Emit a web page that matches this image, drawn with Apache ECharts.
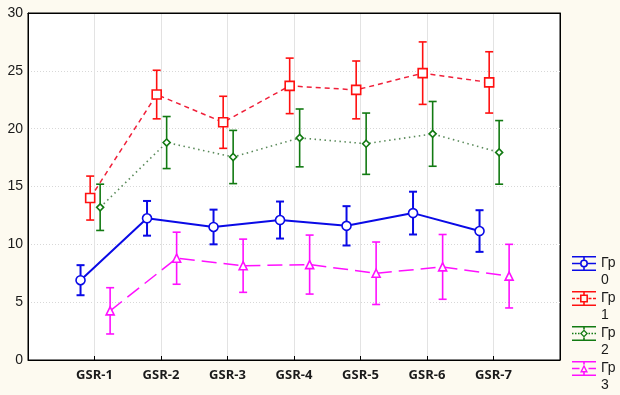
<!DOCTYPE html>
<html>
<head>
<meta charset="utf-8">
<script src="https://cdn.jsdelivr.net/npm/echarts@6/dist/echarts.min.js"></script>
<style>
  html, body { margin: 0; padding: 0; background: #fdfaf0; }
  #chart { width: 620px; height: 395px; }
</style>
</head>
<body>
<div id="chart"></div>
<script>
  const categories = ['GSR-1', 'GSR-2', 'GSR-3', 'GSR-4', 'GSR-5', 'GSR-6', 'GSR-7']
  const groupNames = ['Гр 0', 'Гр 1', 'Гр 2', 'Гр 3']

  const gr0Mean = [6.9, 12.25, 11.5, 12.1, 11.6, 12.7, 11.15]
  const gr0Err = [1.3, 1.5, 1.5, 1.6, 1.7, 1.85, 1.8]
  const gr1Mean = [14.0, 22.95, 20.55, 23.7, 23.35, 24.8, 24.0]
  const gr1Err = [1.9, 2.1, 2.25, 2.4, 2.5, 2.7, 2.65]
  const gr2Mean = [13.2, 18.8, 17.55, 19.2, 18.7, 19.55, 17.95]
  const gr2Err = [2.0, 2.25, 2.3, 2.5, 2.65, 2.8, 2.75]
  const gr3Mean = [4.25, 8.8, 8.15, 8.25, 7.5, 8.05, 7.25]
  const gr3Err = [2.0, 2.25, 2.3, 2.55, 2.7, 2.8, 2.75]

  const means = [gr0Mean, gr1Mean, gr2Mean, gr3Mean]
  const errs = [gr0Err, gr1Err, gr2Err, gr3Err]

  // look of each group
  const colors = ['#0a0ae6', '#ff1010', '#127a12', '#ff10ff']
  const lineColors = ['#0a0ae6', '#f0203a', '#5a8a5a', '#ff10ff']
  const lineTypes = ['solid', [5, 4], [1.5, 3.5], [15, 7]]
  const lineWidths = [2, 1.5, 1.6, 1.5]
  const symbols = ['circle', 'rect', 'diamond', 'triangle']
  const symbolSizes = [9, 9, 7, 8]
  const xShift = [-0.21, -0.065, 0.085, 0.235]

  // legend icon: two caps, stem, middle line, hollow marker
  function rect (x, y, w, h) {
    return 'M' + x + ',' + y + 'H' + (x + w) + 'V' + (y + h) + 'H' + x + 'Z'
  }
  function legendIcon (i) {
    let p = rect(0, 0, 24, 1.6) + rect(0, 13.4, 24, 1.6)
    p += rect(11.2, 0, 1.6, 3.5) + rect(11.2, 11.5, 1.6, 3.5)
    if (i === 0) {
      p += rect(0, 6.7, 8, 1.6) + rect(16, 6.7, 8, 1.6)
    } else if (i === 1) {
      p += rect(0, 6.7, 3, 1.6) + rect(4.5, 6.7, 3, 1.6) + rect(16.5, 6.7, 3, 1.6) + rect(21, 6.7, 3, 1.6)
    } else if (i === 2) {
      p += rect(0, 6.7, 1.5, 1.6) + rect(3, 6.7, 1.5, 1.6) + rect(6, 6.7, 1.5, 1.6) + rect(16.5, 6.7, 1.5, 1.6) + rect(19.5, 6.7, 1.5, 1.6) + rect(22.5, 6.7, 1.5, 1.6)
    } else {
      p += rect(0, 6.7, 7.5, 1.6) + rect(16.5, 6.7, 7.5, 1.6)
    }
    // hollow marker, outer one way, inner the other way
    if (i === 0) {
      p += 'M8,7.5A4,4 0 1,1 16,7.5A4,4 0 1,1 8,7.5Z'
      p += 'M9.6,7.5A2.4,2.4 0 1,0 14.4,7.5A2.4,2.4 0 1,0 9.6,7.5Z'
    } else if (i === 1) {
      p += 'M8,3.5H16V11.5H8Z' + 'M9.6,5.1V9.9H14.4V5.1Z'
    } else if (i === 2) {
      p += 'M12,3.5L16,7.5L12,11.5L8,7.5Z' + 'M12,5.3L9.8,7.5L12,9.7L14.2,7.5Z'
    } else {
      p += 'M12,3.5L16,11.5H8Z' + 'M12,6.6L10.3,10.1H13.7Z'
    }
    return 'path://' + p
  }

  const series = []
  means.forEach((m, i) => {
    const low = m.map((v, k) => v - errs[i][k])
    const high = m.map((v, k) => v + errs[i][k])
    series.push({
      name: groupNames[i] + ' err',
      type: 'custom',
      z: 2,
      silent: true,
      data: m.map((v, k) => [k + 1 + xShift[i], low[k], high[k]]),
      renderItem: function (params, api) {
        const a = api.coord([api.value(0), api.value(1)])
        const b = api.coord([api.value(0), api.value(2)])
        const hw = 4
        const style = { stroke: colors[i], lineWidth: i === 0 ? 2 : 1.6 }
        return {
          type: 'group',
          children: [
            { type: 'line', shape: { x1: a[0], y1: a[1], x2: b[0], y2: b[1] }, style: style },
            { type: 'line', shape: { x1: a[0] - hw, y1: a[1], x2: a[0] + hw, y2: a[1] }, style: style },
            { type: 'line', shape: { x1: b[0] - hw, y1: b[1], x2: b[0] + hw, y2: b[1] }, style: style }
          ]
        }
      }
    })
    series.push({
      name: groupNames[i],
      type: 'line',
      z: 3,
      data: m.map((v, k) => [k + 1 + xShift[i], v]),
      symbol: symbols[i],
      symbolSize: symbolSizes[i],
      showAllSymbol: true,
      lineStyle: { color: lineColors[i], width: lineWidths[i], type: lineTypes[i] },
      itemStyle: { color: '#ffffff', borderColor: colors[i], borderWidth: 1.6 }
    })
  })

  const legends = groupNames.map((n, i) => ({
    data: [{ name: n, icon: legendIcon(i), itemStyle: { color: colors[i], borderWidth: 0 } }],
    orient: 'vertical',
    left: 572,
    top: 238 + 35 * i,
    itemWidth: 24,
    itemHeight: 15,
    itemGap: 0,
    padding: 0,
    selectedMode: false,
    // a blank first line so that "Гр" sits level with the icon
    formatter: name => '\u00a0\n' + name.replace(' ', '\n'),
    textStyle: {
      fontFamily: 'Liberation Sans',
      fontSize: 14,
      lineHeight: 17,
      color: '#1a1a1a'
    }
  }))

  const myChart = echarts.init(document.getElementById('chart'))
  myChart.setOption({
    backgroundColor: '#fdfaf0',
    animation: false,
    legend: legends,
    grid: {
      left: 28,
      right: 60,
      top: 13,
      bottom: 35,
      show: true,
      backgroundColor: '#ffffff',
      borderColor: '#000000',
      borderWidth: 1
    },
    xAxis: [{
      type: 'value',
      min: 0,
      max: 8,
      interval: 1,
      axisLine: { lineStyle: { color: '#000000', width: 1 } },
      axisTick: { show: true, inside: true, length: 4, lineStyle: { color: '#000000' } },
      splitLine: { show: true, lineStyle: { color: '#e3e3e3', width: 1 } },
      axisLabel: {
        margin: 9,
        fontFamily: 'Open Sans',
        fontWeight: 'bold',
        fontSize: 13,
        color: '#1a1a1a',
        formatter: v => (v >= 1 && v <= categories.length) ? categories[v - 1] : ''
      }
    }, {
      // top frame line
      type: 'value',
      position: 'top',
      min: 0,
      max: 8,
      axisLine: { show: true, onZero: false, lineStyle: { color: '#000000', width: 1 } },
      axisTick: { show: false },
      axisLabel: { show: false },
      splitLine: { show: false }
    }],
    yAxis: [{
      type: 'value',
      min: 0,
      max: 30,
      interval: 5,
      axisLine: { show: true, lineStyle: { color: '#000000', width: 1 } },
      axisTick: { show: false },
      splitLine: { show: true, lineStyle: { color: '#d8d8d8', type: [1, 2], width: 1 } },
      axisLabel: {
        margin: 5,
        fontFamily: 'Liberation Sans',
        fontSize: 14,
        color: '#1a1a1a'
      }
    }, {
      // right frame line
      type: 'value',
      position: 'right',
      min: 0,
      max: 30,
      axisLine: { show: true, onZero: false, lineStyle: { color: '#000000', width: 1 } },
      axisTick: { show: false },
      axisLabel: { show: false },
      splitLine: { show: false }
    }],
    series: series
  })
</script>
</body>
</html>
